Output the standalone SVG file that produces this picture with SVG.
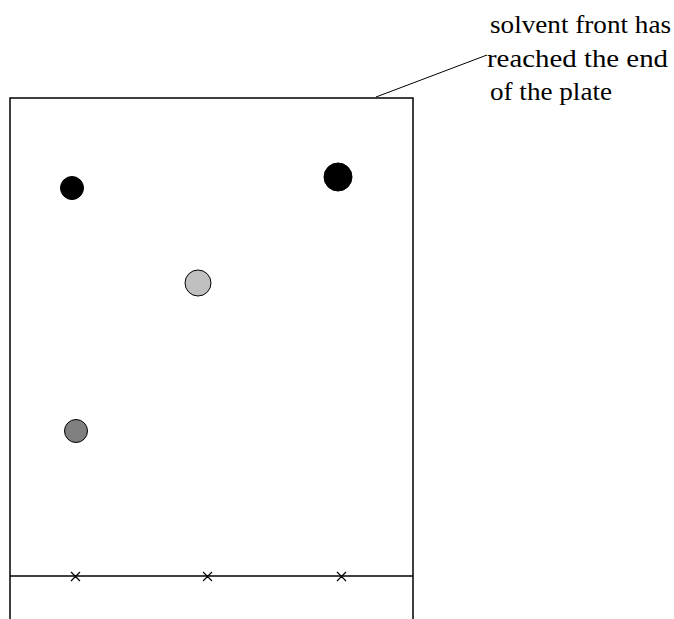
<svg xmlns="http://www.w3.org/2000/svg" width="674" height="619" viewBox="0 0 674 619">
<style>
.edge{stroke:#000;stroke-width:1.5;fill:none}
.spot{stroke:#000;stroke-width:1}
.x{stroke:#000;stroke-width:1.2}
.lbl{font-family:"Liberation Serif","Times New Roman",serif;font-size:25px;fill:#000}
</style>
<rect width="674" height="619" fill="#fff"/>
<g id="plate">
<polyline class="edge" points="10,619 10,98 413,98 413,619"/>
<line class="edge" x1="10" y1="576" x2="413" y2="576"/>
</g>
<g id="origins">
<path class="x" d="M71,572l9,9M80,572l-9,9M203,572l9,9M212,572l-9,9M337,572l9,9M346,572l-9,9"/>
</g>
<g id="spot1"><circle class="spot" cx="72" cy="188" r="11.5" fill="#000"/></g>
<g id="spot2"><circle class="spot" cx="338" cy="177" r="14" fill="#000"/></g>
<g id="spot3"><circle class="spot" cx="198" cy="283" r="13" fill="#c0c0c0"/></g>
<g id="spot4"><circle class="spot" cx="76" cy="431" r="11.5" fill="#808080"/></g>
<g id="connectors">
<line x1="376" y1="97" x2="487" y2="55" stroke="#000" stroke-width="1"/>
</g>
<g id="label">
<text class="lbl" x="490" y="33" textLength="181" lengthAdjust="spacingAndGlyphs">solvent front has</text>
<text class="lbl" x="487" y="67" textLength="181" lengthAdjust="spacingAndGlyphs">reached the end</text>
<text class="lbl" x="490" y="100" textLength="122" lengthAdjust="spacingAndGlyphs">of the plate</text>
</g>
</svg>
